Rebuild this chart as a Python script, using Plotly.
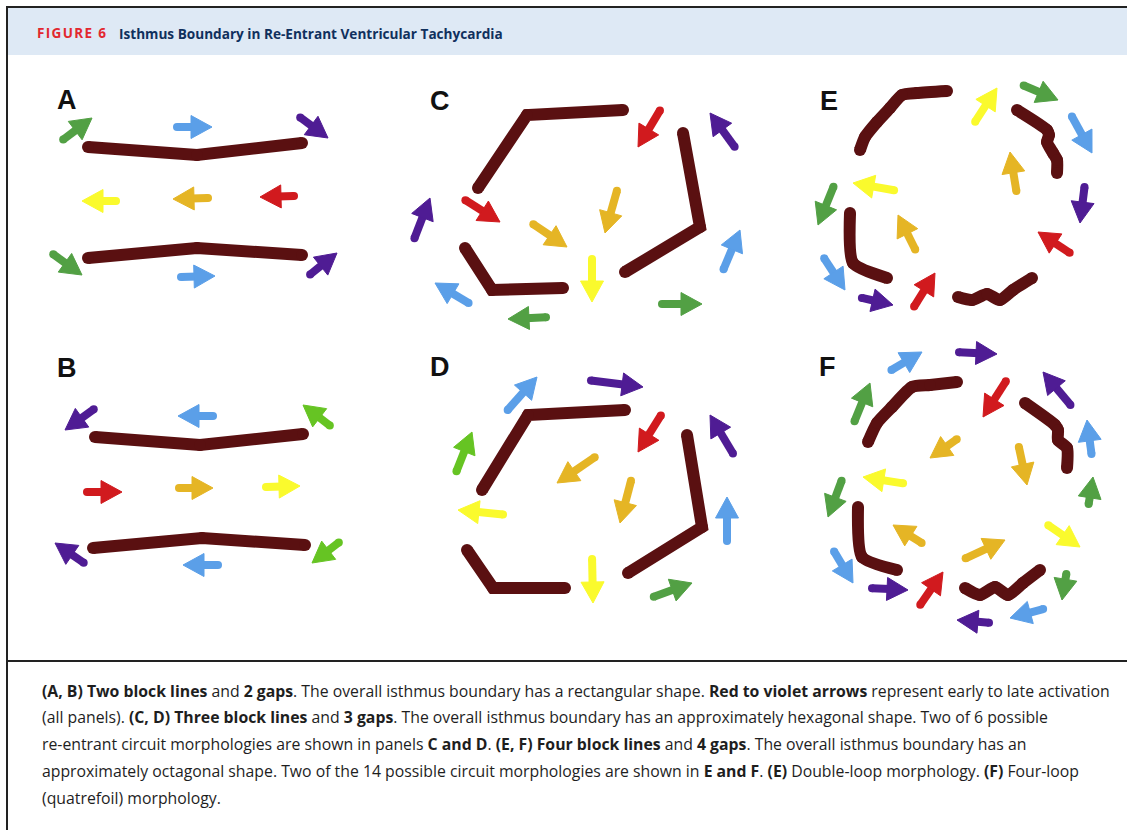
import math
import plotly.graph_objects as go

W, H = 1127, 830

MAROON = "#5a1011"
COLORS = {
    "green": "#52a044", "lime": "#66c423", "blue": "#5b9fe8", "purple": "#4f1c94",
    "yellow": "#fafa2d", "gold": "#e5b525", "red": "#d11a1e",
}

# ---------------- data: block lines (polylines) per panel ----------------
blocks_A = [([88, 197, 302], [147, 155, 143]), ([88, 197, 302], [258, 248, 255])]
blocks_B = [([95, 200, 303], [437, 445, 434]), ([93, 202, 305], [548, 538, 545])]
blocks_C = [([478, 527, 623], [188, 115, 110]), ([683, 700, 625], [133, 227, 272]),
            ([465, 492, 563], [248, 290, 288])]
blocks_D = [([482, 528, 625], [490, 415, 410]), ([687, 702, 628], [435, 527, 573]),
            ([467, 493, 565], [550, 588, 588])]
blocks_E = [([860, 865, 877, 890, 902, 917, 947], [150, 137, 122, 108, 95, 93, 91]),
            ([1017, 1047, 1049, 1047, 1053, 1057, 1057], [110, 130, 135, 142, 153, 160, 173]),
            ([850, 853, 887], [213, 263, 278]),
            ([958, 972, 987, 1000, 1013, 1032], [297, 300, 294, 300, 290, 278])]
blocks_F = [([868, 877, 892, 912, 930, 957], [442, 423, 407, 387, 385, 382]),
            ([1025, 1055, 1058, 1058, 1067, 1067], [403, 425, 430, 440, 448, 468]),
            ([858, 862, 897], [507, 557, 570]),
            ([965, 980, 995, 1008, 1023, 1040], [588, 595, 587, 595, 583, 570])]

# ---------------- data: arrows (colour, tail x, tail y, tip x, tip y) ----------------
arrows_A = [("green", 60, 142, 92, 118), ("blue", 173, 127, 212, 127), ("purple", 297, 115, 328, 138),
            ("yellow", 120, 201, 82, 201), ("gold", 212, 198, 173, 199), ("red", 298, 196, 260, 197),
            ("green", 50, 252, 82, 275), ("blue", 177, 277, 215, 276), ("purple", 307, 277, 337, 253)]
arrows_B = [("purple", 97, 407, 65, 430), ("blue", 217, 416, 178, 416), ("lime", 333, 428, 303, 405),
            ("red", 83, 492, 122, 492), ("gold", 175, 488, 213, 488), ("yellow", 262, 487, 300, 486),
            ("purple", 87, 565, 55, 543), ("blue", 222, 565, 183, 565), ("lime", 342, 540, 312, 563)]
arrows_C = [("red", 662, 107, 638, 147), ("purple", 737, 150, 710, 113), ("red", 462, 198, 500, 222),
            ("purple", 413, 242, 430, 198), ("gold", 530, 222, 567, 247), ("gold", 618, 187, 605, 233),
            ("yellow", 592, 255, 592, 302), ("blue", 722, 273, 740, 230), ("blue", 472, 305, 435, 283),
            ("green", 550, 317, 508, 319), ("green", 658, 304, 702, 304)]
arrows_D = [("purple", 587, 380, 643, 387), ("blue", 505, 413, 537, 377), ("lime", 455, 475, 472, 432),
            ("red", 663, 412, 638, 452), ("purple", 735, 457, 710, 415), ("gold", 598, 455, 557, 483),
            ("gold", 632, 477, 620, 523), ("yellow", 507, 515, 458, 510), ("blue", 727, 545, 727, 497),
            ("yellow", 592, 555, 593, 603), ("green", 650, 598, 692, 583)]
arrows_E = [("yellow", 973, 125, 997, 88), ("green", 1020, 84, 1058, 100), ("blue", 1070, 113, 1092, 153),
            ("gold", 1017, 195, 1010, 152), ("purple", 1085, 183, 1080, 223), ("yellow", 898, 191, 853, 183),
            ("green", 835, 183, 818, 225), ("gold", 917, 253, 898, 215), ("red", 1073, 255, 1038, 232),
            ("blue", 822, 255, 845, 290), ("purple", 858, 297, 893, 305), ("red", 912, 310, 935, 273)]
arrows_F = [("blue", 888, 372, 922, 352), ("purple", 955, 352, 997, 354), ("green", 853, 425, 870, 383),
            ("red", 1008, 378, 983, 417), ("purple", 1073, 408, 1043, 372), ("blue", 1092, 458, 1087, 420),
            ("gold", 960, 437, 930, 458), ("gold", 1018, 443, 1027, 485), ("yellow", 907, 484, 863, 477),
            ("green", 1088, 508, 1093, 477), ("green", 843, 477, 828, 517), ("gold", 925, 545, 893, 525),
            ("gold", 962, 560, 1005, 540), ("yellow", 1045, 523, 1080, 547), ("blue", 832, 548, 853, 583),
            ("purple", 868, 588, 908, 590), ("red", 918, 608, 943, 572), ("green", 1067, 570, 1062, 600),
            ("blue", 1047, 608, 1010, 618), ("purple", 993, 623, 957, 620)]

panel_labels = ["A", "B", "C", "D", "E", "F"]
panel_label_x = [67, 67, 440, 440, 829, 827]
panel_label_y = [100, 368, 101, 367, 101, 367]

title_tag = "FIGURE 6"
title_text = "Isthmus Boundary in Re-Entrant Ventricular Tachycardia"
caption_lines = [
    "<b>(A, B) Two block lines</b> and <b>2 gaps</b>. The overall isthmus boundary has a rectangular shape. "
    "<b>Red to violet arrows</b> represent early to late activation",
    "(all panels). <b>(C, D) Three block lines</b> and <b>3 gaps</b>. The overall isthmus boundary has an "
    "approximately hexagonal shape. Two of 6 possible",
    "re-entrant circuit morphologies are shown in panels <b>C and D</b>. <b>(E, F) Four block lines</b> and "
    "<b>4 gaps</b>. The overall isthmus boundary has an",
    "approximately octagonal shape. Two of the 14 possible circuit morphologies are shown in <b>E and F</b>. "
    "<b>(E)</b> Double-loop morphology. <b>(F)</b> Four-loop",
    "(quatrefoil) morphology.",
]
caption_y = [691, 717, 744, 771, 798]

# ---------------- figure ----------------
fig = go.Figure()

BLOCK_W = 12
SHAFT_W = 8
HEAD_L = 21
HEAD_HW = 11.5

all_blocks = [(blocks_A, False), (blocks_B, False), (blocks_C, False), (blocks_D, False),
              (blocks_E, True), (blocks_F, True)]
for blocks, smooth in all_blocks:
    for xs, ys in blocks:
        fig.add_trace(go.Scatter(
            x=xs, y=ys, mode="lines+markers",
            line=dict(color=MAROON, width=BLOCK_W, shape="spline" if smooth else "linear",
                      smoothing=0.6),
            marker=dict(color=MAROON, size=BLOCK_W, line=dict(width=0)),
            hoverinfo="skip", showlegend=False))

for arrows in [arrows_A, arrows_B, arrows_C, arrows_D, arrows_E, arrows_F]:
    for cname, x0, y0, x1, y1 in arrows:
        c = COLORS[cname]
        dx, dy = x1 - x0, y1 - y0
        n = math.hypot(dx, dy)
        ux, uy = dx / n, dy / n
        px, py = -uy, ux
        sx, sy = x0 + ux * SHAFT_W / 2, y0 + uy * SHAFT_W / 2
        bx, by = x1 - ux * HEAD_L, y1 - uy * HEAD_L
        fig.add_trace(go.Scatter(
            x=[sx, bx + ux * 3], y=[sy, by + uy * 3], mode="lines",
            line=dict(color=c, width=SHAFT_W), hoverinfo="skip", showlegend=False))
        fig.add_trace(go.Scatter(
            x=[sx], y=[sy], mode="markers",
            marker=dict(color=c, size=SHAFT_W, line=dict(width=0)),
            hoverinfo="skip", showlegend=False))
        fig.add_trace(go.Scatter(
            x=[x1, bx + px * HEAD_HW, bx - px * HEAD_HW, x1],
            y=[y1, by + py * HEAD_HW, by - py * HEAD_HW, y1],
            mode="lines", fill="toself", fillcolor=c,
            line=dict(color=c, width=1), hoverinfo="skip", showlegend=False))

annotations = []
for lab, lx, ly in zip(panel_labels, panel_label_x, panel_label_y):
    annotations.append(dict(x=lx, y=ly, xref="x", yref="y", text="<b>%s</b>" % lab, showarrow=False,
                            font=dict(family="Liberation Sans, Arial", size=27, color="#111111"),
                            xanchor="center", yanchor="middle"))

spaced_tag = "\u200a".join(title_tag)
annotations.append(dict(x=35, y=33, xref="x", yref="y", text="<b>%s</b>" % spaced_tag, showarrow=False,
                        font=dict(family="Open Sans, sans-serif", size=13.5, color="#e2282f"),
                        xanchor="left", yanchor="middle"))
annotations.append(dict(x=117, y=33, xref="x", yref="y", text="<b>%s</b>" % title_text, showarrow=False,
                        font=dict(family="Open Sans, sans-serif", size=13.6, color="#10305d"),
                        xanchor="left", yanchor="middle"))
for t, cy in zip(caption_lines, caption_y):
    annotations.append(dict(x=40, y=cy, xref="x", yref="y", text=t, showarrow=False,
                            font=dict(family="Open Sans, sans-serif", size=15.8, color="#1e1e1e"),
                            xanchor="left", yanchor="middle"))

shapes = [
    dict(type="rect", xref="x", yref="y", x0=8, x1=1135, y0=8, y1=55,
         fillcolor="#dee9f5", line=dict(width=0), layer="below"),
    dict(type="line", xref="x", yref="y", x0=7, x1=1135, y0=7, y1=7,
         line=dict(color="#222222", width=2)),
    dict(type="line", xref="x", yref="y", x0=7, x1=7, y0=6, y1=840,
         line=dict(color="#222222", width=2)),
    dict(type="line", xref="x", yref="y", x0=7, x1=1135, y0=661, y1=661,
         line=dict(color="#222222", width=2)),
]

fig.update_layout(
    width=W, height=H, margin=dict(l=0, r=0, t=0, b=0),
    paper_bgcolor="white", plot_bgcolor="white",
    xaxis=dict(range=[0, W], visible=False, fixedrange=True),
    yaxis=dict(range=[H, 0], visible=False, fixedrange=True),
    annotations=annotations, shapes=shapes, showlegend=False,
)

fig.write_html("out.html", config={"displayModeBar": False},
               post_script="document.body.style.margin='0px';document.body.style.overflow='hidden';")
